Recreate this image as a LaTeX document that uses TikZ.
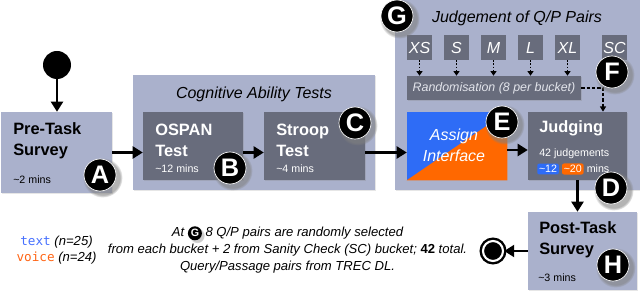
\documentclass[tikz,border=0pt]{standalone}
\usepackage{fontspec}
\setmainfont{Liberation Sans}
\newfontfamily\monofont{DejaVu Sans Mono}
\usetikzlibrary{positioning,arrows.meta,shadows}
\definecolor{groupblue}{RGB}{170,177,204}
\definecolor{boxgray}{RGB}{104,108,124}
\definecolor{randtext}{RGB}{226,228,235}
\definecolor{assignblue}{RGB}{46,108,246}
\definecolor{assignorange}{RGB}{255,104,0}
\definecolor{textblue}{RGB}{70,112,255}
\definecolor{voiceorange}{RGB}{255,100,20}

\begin{document}
\begin{tikzpicture}[
        x=0.75pt, y=-0.75pt,
        node distance=2pt,
        group/.style={fill=groupblue, inner sep=0pt, drop shadow={opacity=0.2, shadow xshift=0.5pt, shadow yshift=-0.7pt}},
        panel/.style={fill=boxgray, inner sep=0pt, drop shadow={opacity=0.25, shadow xshift=0.5pt, shadow yshift=-0.7pt}},
        bucket/.style={fill=boxgray, text=white, minimum size=18.75pt, inner sep=0pt, font=\fontsize{12}{14}\selectfont\itshape},
        heading/.style={inner sep=0pt, font=\fontsize{12}{14}\selectfont\itshape},
        boxtitle/.style={anchor=west, inner sep=0pt, align=left, font=\fontsize{12.3}{15.75}\selectfont\bfseries},
        boxnote/.style={anchor=west, inner sep=0pt, font=\fontsize{8}{10}\selectfont},
        chip/.style={text=white, rounded corners=1.5pt, inner sep=1.3pt, font=\fontsize{8}{10}\selectfont},
        badge/.style={circle, fill=black, draw=white, line width=0.5pt, text=white, minimum size=24pt, inner sep=0pt,
            font=\fontsize{19}{19}\selectfont\bfseries, circular drop shadow={opacity=0.6, shadow scale=1.25}},
        minibadge/.style={circle, fill=black, text=white, minimum size=10.5pt, inner sep=0pt,
            font=\fontsize{8}{8}\selectfont\bfseries\upshape, circular drop shadow={opacity=0.4}},
        flow/.style={-{Triangle[length=7.5pt,width=9pt]}, line width=1.6pt},
        pick/.style={-{Triangle[length=3.5pt,width=4.5pt]}, line width=1.1pt, dash pattern=on 1.2pt off 1.2pt},
        feed/.style={-{Triangle[length=4pt,width=4.5pt]}, line width=1.1pt, dash pattern=on 2.5pt off 1.5pt}
    ]
        \useasboundingbox (0,0) rectangle (640,292);

        \node[circle, fill=black, minimum size=21pt, inner sep=0pt] (start) at (57,65) {};
        \node[group, minimum width=83.25pt, minimum height=60.75pt] (pre) at (56.5,152.5) {};
        \node[boxtitle] (pretitle) at (13,141) {Pre-Task\\Survey};
        \node[boxnote] (pretime) at (13,180) {\textasciitilde2 mins};

        \node[group, minimum width=181.5pt, minimum height=86.25pt] (cog) at (254,132.5) {};
        \node[heading] (cogtitle) at (254,94) {Cognitive Ability Tests};
        \node[panel, minimum width=75pt, minimum height=51pt] (ospan) at (193,146) {};
        \node[boxtitle, text=white] (ospantitle) at (155,140) {OSPAN\\Test};
        \node[boxnote, text=white] (ospantime) at (155,169) {\textasciitilde12 mins};
        \node[panel, minimum width=75.75pt, minimum height=51pt] (stroop) at (314.5,146) {};
        \node[boxtitle, text=white] (strooptitle) at (276,140) {Stroop\\Test};
        \node[boxnote, text=white] (strooptime) at (276,169) {\textasciitilde4 mins};

        \node[group, minimum width=184.5pt, minimum height=145pt] (judge) at (518,93.5) {};
        \node[heading] (judgetitle) at (517,18) {Judgement of Q/P Pairs};
        \node[panel, minimum width=130.5pt, minimum height=18pt] (rand) at (494,88) {};
        \node[inner sep=0pt, text=randtext, font=\fontsize{9.3}{11}\selectfont\itshape] at (rand) {Randomisation (8 per bucket)};
        \foreach \b [count=\i from 0] in {XS,S,M,L,XL}{
            \node[bucket] (b\b) at (419.5+37*\i,47.5) {\b};
            \draw[pick] (b\b) -- (b\b |- rand.north);
        }
        \node[bucket] (bSC) at (614.5,47.5) {SC};
        \coordinate (fjoin) at (603,88);

        \node[fill=assignblue, minimum width=75pt, minimum height=51pt, inner sep=0pt] (assign) at (457,146) {};
        \fill[assignorange] (assign.south west) -- (assign.north east) -- (assign.south east) -- cycle;
        \node[align=center, inner sep=0pt, text=white, font=\fontsize{12}{15.75}\selectfont\itshape] (assigntext) at (454,145) {Assign\\Interface};
        \node[panel, minimum width=74.25pt, minimum height=51pt] (judging) at (577.5,146) {};
        \node[boxtitle, text=white] (judgtitle) at (539,128) {Judging};
        \node[boxnote, text=white] (judgcount) at (539,154) {42 judgements};
        \node[chip, fill=assignblue, anchor=west] (tchip) at (537,169) {\textasciitilde12};
        \node[chip, fill=assignorange, right=2pt of tchip] (vchip) {\textasciitilde20};
        \node[boxnote, text=white, right=2pt of vchip] (judgmins) {mins};

        \node[group, minimum width=81.75pt, minimum height=58.5pt] (post) at (582.5,251) {};
        \node[boxtitle] (posttitle) at (539,240) {Post-Task\\Survey};
        \node[boxnote] (posttime) at (538,278) {\textasciitilde3 mins};
        \node[circle, fill=black, draw=black, double=white, double distance=1.6pt, line width=1.8pt, minimum size=15pt, inner sep=0pt] (finish) at (493,251) {};

        \draw[flow] (start) -- (start |- pre.north);
        \draw[flow] (pre.east) -- (pre.east -| ospan.west);
        \draw[flow] (ospan.east |- pre.east) -- (stroop.west |- pre.east);
        \draw[flow] (stroop.east |- pre.east) -- (assign.west |- pre.east);
        \draw[flow] ([yshift=-3pt]assign.east) -- ([yshift=-3pt]judging.west);
        \draw[feed] (rand.east) -- (fjoin) -- (fjoin |- judging.north);
        \draw[flow] (judging.south) -- (judging.south |- post.north);
        \draw[flow] (post.west) -- (finish.east);

        \node[badge] (ba) at (100,175) {A};
        \node[badge] (bb) at (230,168) {B};
        \node[badge] (bc) at (355,123) {C};
        \node[badge] (bd) at (611,188) {D};
        \node[badge] (be) at (502,122) {E};
        \node[badge] (bf) at (612,72) {F};
        \node[badge] (bg) at (397,16) {G};
        \node[badge] (bh) at (613,265) {H};

        \node[align=center, inner sep=0pt, font=\fontsize{9.8}{12}\selectfont] (cohorts) at (56.5,250)
            {{\monofont\fontsize{9.5}{12}\selectfont\color{textblue}text} \textit{(n=25)}\\{\monofont\fontsize{9.5}{12}\selectfont\color{voiceorange}voice} \textit{(n=24)}};
        \node[align=center, inner sep=0pt, font=\fontsize{9.8}{12.75}\selectfont\itshape] (note) at (287.5,250)
            {At \tikz[baseline=(gmini.base)]\node[minibadge] (gmini) {G}; 8 Q/P pairs are randomly selected\\
             from each bucket + 2 from Sanity Check (SC) bucket; \textbf{\upshape 42} total.\\
             Query/Passage pairs from TREC DL.};
    \end{tikzpicture}
\end{document}
